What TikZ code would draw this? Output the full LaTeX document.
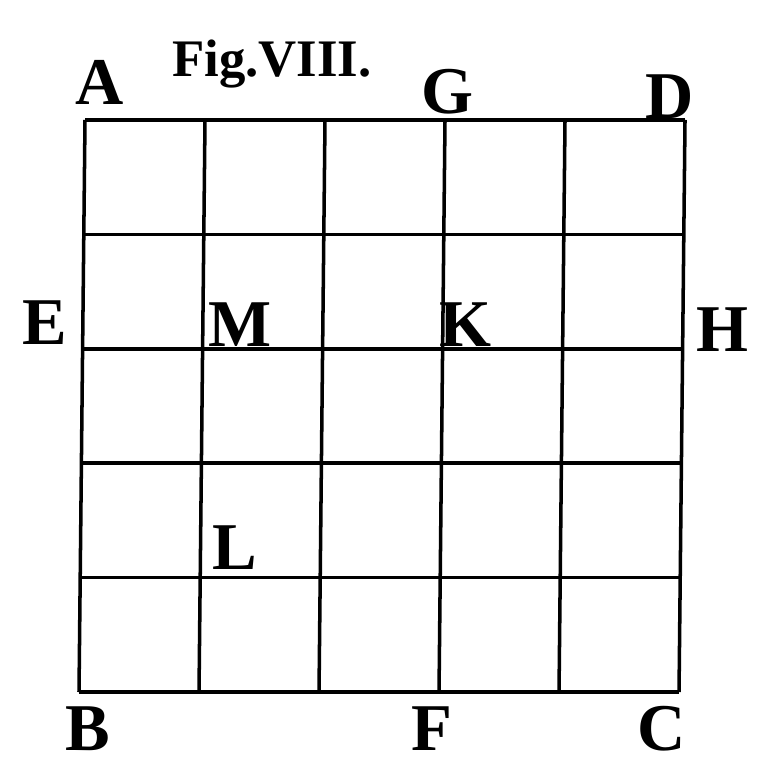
\documentclass[tikz,border=0pt]{standalone}
\usepackage{fontspec}
\setmainfont{Liberation Serif}
\usepackage{tikz}

\begin{document}
\begin{tikzpicture}[x=0.01cm,y=-0.01cm]
             \useasboundingbox (0,0) rectangle (765,765);
             \tikzset{lbl/.style={draw=none,font=\fontsize{19}{19}\selectfont\bfseries,inner sep=0pt}}

             % the square and its grid
             \foreach \i in {0,...,5} {
               \draw[line width=1pt] (85+120*\i,120) -- (79+120*\i,692);
               \draw[line width=1pt] (85-1.2*\i,120+114.4*\i) -- (685-1.2*\i,120+114.4*\i);
             }

             \node[lbl] (tA) at (100,82) {A};
             \node[lbl,font=\fontsize{15}{15}\selectfont\bfseries] (title) at (272,64) {Fig.VIII.};
             \node[lbl] (tG) at (447,92) {G};
             \node[lbl] (tD) at (670,97) {D};
             \node[lbl] (tE) at (45,323) {E};
             \node[lbl] (tM) at (240,325) {M};
             \node[lbl] (tK) at (465,325) {K};
             \node[lbl] (tH) at (722,330) {H};
             \node[lbl] (tL) at (235,548) {L};
             \node[lbl] (tB) at (88,729) {B};
             \node[lbl] (tF) at (432,729) {F};
             \node[lbl] (tC) at (662,729) {C};
\end{tikzpicture}
\end{document}
